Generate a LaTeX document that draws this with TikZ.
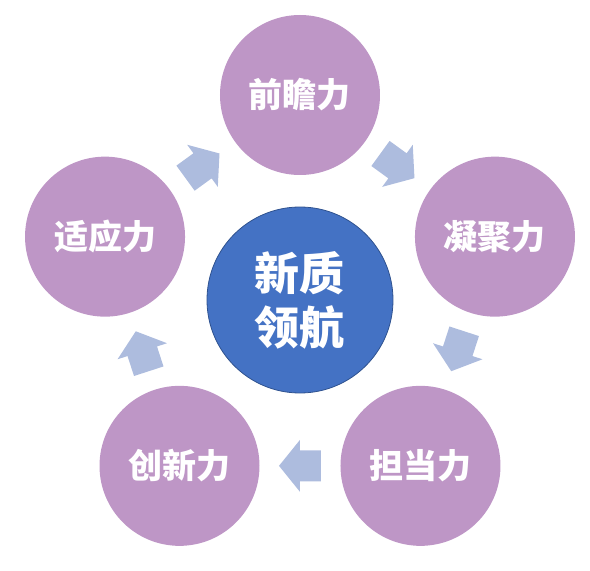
\documentclass[tikz,border=0pt]{standalone}
\usepackage{fontspec}
\newfontfamily\cjk{Noto Sans CJK SC}
\usetikzlibrary{calc}
\definecolor{outerfill}{RGB}{190,150,198}
\definecolor{corefill}{RGB}{68,114,196}
\definecolor{coreline}{RGB}{47,82,143}
\definecolor{arrowfill}{RGB}{173,188,222}
\tikzset{
  outercircle/.style={circle, fill=outerfill, minimum size=160pt, inner sep=0pt,
    text=white, font=\cjk\bfseries\fontsize{34}{40}\selectfont},
  corecircle/.style={circle, fill=corefill, draw=coreline, line width=0.8pt,
    minimum size=186pt, inner sep=0pt, align=center,
    text=white, font=\cjk\bfseries\fontsize{45}{54}\selectfont},
  blockarrow/.style={fill=arrowfill}
}
\begin{document}
\begin{tikzpicture}[x=1pt,y=1pt]
\useasboundingbox (-300,-271) rectangle (290,300);
\node[corecircle] (c) at (0,0) {新质\\领航};
\node[outercircle] (t)  at (90:205)  {前瞻力};
\node[outercircle] (r)  at (18:205)  {凝聚力};
\node[outercircle] (br) at (306:205) {担当力};
\node[outercircle] (bl) at (234:205) {创新力};
\node[outercircle] (l)  at (162:205) {适应力};
\foreach \a/\b/\r in {l/t/36, t/r/-36, r/br/-108, br/bl/180, bl/l/108}{
  \fill[blockarrow, shift={($(\a)!0.5!(\b)$)}, rotate=\r]
    (-21,-15.5) -- (0,-15.5) -- (0,-26) -- (21,0) -- (0,26) -- (0,15.5) -- (-21,15.5) -- cycle;
}
\end{tikzpicture}
\end{document}
